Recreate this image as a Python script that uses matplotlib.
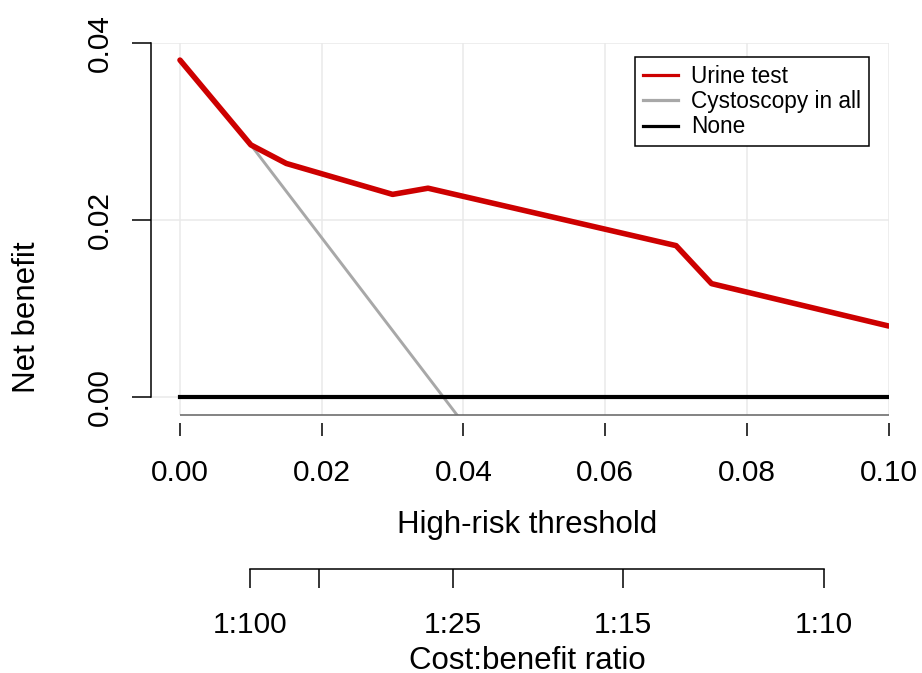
import matplotlib
matplotlib.use("Agg")
import matplotlib.pyplot as plt
from matplotlib.lines import Line2D

plt.rcParams['font.family'] = ['Liberation Sans', 'DejaVu Sans']

# decision curve data
urine_x = [0.0, 0.010, 0.015, 0.030, 0.035, 0.070, 0.075, 0.100]
urine_y = [0.0381, 0.0285, 0.0264, 0.0229, 0.0236, 0.0171, 0.0128, 0.0080]

cysto_x = [0.010, 0.0395]
cysto_y = [0.0285, -0.0025]

none_x = [0.0, 0.100]
none_y = [0.0, 0.0]

x_ticks = [0.00, 0.02, 0.04, 0.06, 0.08, 0.10]
y_ticks = [0.00, 0.02, 0.04]

# cost:benefit ratios 1:n  ->  threshold 1/(n+1)
cb_n = [100, 50, 25, 15, 10]
cb_labels = ['1:100', '', '1:25', '1:15', '1:10']

W, H = 922, 673
px = lambda x: x / W
py = lambda y: 1 - y / H

fig = plt.figure(figsize=(9.22, 6.73), dpi=100)

left, right, top, bottom = 151, 888.7, 43.3, 415
ax = fig.add_axes([px(left), py(bottom), (right - left) / W, (bottom - top) / H])
x_lo, y_lo = -0.00409, -0.00207
ax.set_xlim(x_lo, 0.10)
ax.set_ylim(y_lo, 0.04)

ax.grid(True, color='#e9e9e9', lw=1.1, zorder=0)
ax.set_axisbelow(True)

ax.plot(urine_x, urine_y, color='#cd0000', lw=4.0, solid_joinstyle='round',
        solid_capstyle='round', zorder=4)
ax.plot(cysto_x, cysto_y, color='#a8a8a8', lw=2.1, zorder=3)
ax.plot(none_x, none_y, color='black', lw=3.0, zorder=3)

for s in ['top', 'right']:
    ax.spines[s].set_visible(False)

# y axis
ax.spines['left'].set_bounds(0, 0.04)
ax.spines['left'].set_linewidth(1.1)
ax.set_yticks(y_ticks)
ax.set_yticklabels(['%.2f' % v for v in y_ticks], rotation=90, va='center')
ax.tick_params(axis='y', length=13.7, width=1.1, pad=13.0, labelsize=21.5)

# x axis: grey line at the bottom, ticks slightly below it
ax.hlines(y_lo, x_ticks[0], x_ticks[-1], color='#6e6e6e', lw=1.2,
          clip_on=False, zorder=5)
ax.spines['bottom'].set_position(('outward', 6))
ax.spines['bottom'].set_visible(False)
ax.set_xticks(x_ticks)
ax.set_xticklabels(['%.2f' % v for v in x_ticks])
ax.tick_params(axis='x', length=9.4, width=1.1, pad=16.5, labelsize=21.5, colors='black')

# cost:benefit axis
ax2 = fig.add_axes([px(left), py(569), (right - left) / W, 0.0001])
ax2.set_xlim(x_lo, 0.10)
ax2.patch.set_visible(False)
for s in ['top', 'left', 'right']:
    ax2.spines[s].set_visible(False)
cb_pos = [1 / (n + 1) for n in cb_n]
ax2.spines['bottom'].set_bounds(cb_pos[0], cb_pos[-1])
ax2.spines['bottom'].set_linewidth(1.1)
ax2.set_yticks([])
ax2.set_xticks(cb_pos)
ax2.set_xticklabels(cb_labels)
ax2.tick_params(axis='x', length=13.7, width=1.1, pad=16.5, labelsize=21.5)

# axis titles
fig.text(px(526.7), py(533), 'High-risk threshold', ha='center', va='baseline',
         fontsize=22.5)
fig.text(px(527.5), py(669), 'Cost:benefit ratio', ha='center', va='baseline',
         fontsize=22.5)
fig.text(px(35), py(317.5), 'Net benefit', rotation=90, rotation_mode='anchor',
         ha='center', va='baseline', fontsize=22.5)

# legend
handles = [Line2D([], [], color='#cd0000', lw=2.3),
           Line2D([], [], color='#a8a8a8', lw=2.3),
           Line2D([], [], color='black', lw=2.3)]
leg = ax.legend(handles, ['Urine test', 'Cystoscopy in all', 'None'],
                loc='upper left', bbox_to_anchor=(px(635), py(57)),
                bbox_transform=fig.transFigure, fontsize=16.3, frameon=True,
                fancybox=False, framealpha=1, edgecolor='black',
                borderpad=0.35, handlelength=1.55, handletextpad=0.58,
                labelspacing=0.1, borderaxespad=0)
leg.get_frame().set_linewidth(1.1)

fig.savefig('out.png', dpi=100)
